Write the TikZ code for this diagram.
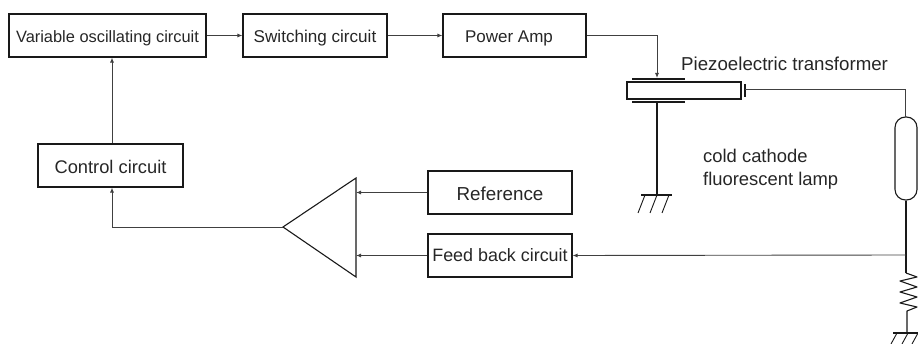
\documentclass[tikz,border=0pt]{standalone}
\usepackage{fontspec}
\setmainfont{Liberation Sans}
\usetikzlibrary{arrows.meta,calc}
\newcommand{\fs}[1]{\fontsize{#1}{23.5}\selectfont}
\tikzset{
  x=1pt,y=-1pt,
  blk/.style={draw=black!90,line width=1.1pt,minimum height=43pt,inner sep=0pt,text=black!85,text height=14pt,text depth=0pt},
  lbl/.style={text=black!85,align=left,inner sep=0pt,anchor=west},
  conn/.style={draw=black!75,line width=.9pt,-{Latex[length=5pt,width=4pt]}},
  wire/.style={draw=black!75,line width=.9pt},
  heavy/.style={draw=black!90,line width=1.1pt},
}
\begin{document}
\begin{tikzpicture}
\useasboundingbox (0,0) rectangle (918,344);
\node[blk,minimum width=197pt,font=\fs{16.4}] (vo) at (107.5,35.5) {Variable oscillating circuit};
\node[blk,minimum width=144pt,font=\fs{17.1}] (sw) at (315,35.5) {Switching circuit};
\node[blk,minimum width=143pt] (pa) at (514.5,35.5) {};
\node[text=black!85,inner sep=0pt,font=\fs{17},text height=14pt,text depth=0pt] (pal) at (509,35.5) {Power Amp};
\node[blk,minimum width=145pt,font=\fs{18.3},text height=16pt] (cc) at (110.5,165.5) {Control circuit};
\node[blk,minimum width=144pt,font=\fs{18.8},text height=16pt] (rf) at (500,192.5) {Reference};
\node[blk,minimum width=144pt,font=\fs{17.9},text height=12.5pt] (fb) at (500,255.5) {Feed back circuit};
% amplifier
\coordinate (apex) at (283,227);
\coordinate (atop) at (356,178);
\coordinate (abot) at (356,277);
\draw[heavy,line join=miter] (apex) -- (atop) -- (abot) -- cycle;
% top row connectors
\draw[conn] (vo.east) -- (sw.west);
\draw[conn] (sw.east) -- (pa.west);
\draw[conn] (cc.north -| 112,0) -- (vo.south -| 112,0);
\draw[conn] (apex) -- (112,227) -- (cc.south -| 112,0);
\draw[conn] (rf.west) -- (rf.west -| abot);
\draw[conn] (fb.west) -- (fb.west -| abot);
% piezo transformer
\node[draw=black!90,line width=1.1pt,minimum width=114pt,minimum height=17pt,inner sep=0pt] (pz) at (684,90.5) {};
\coordinate (et1) at (632,79); \coordinate (et2) at (685,79);
\coordinate (eb1) at (632,102); \coordinate (eb2) at (685,102);
\coordinate (er1) at (745,84); \coordinate (er2) at (745,97);
\draw[heavy] (et1) -- (et2);
\draw[heavy] (eb1) -- (eb2);
\draw[heavy] (er1) -- (er2);
\draw[conn] (pa.east) -- (657,35.5) -- (657,78);
% left ground
\coordinate (g1) at (657,195);
\draw[heavy] (657,102) -- (g1);
\draw[heavy] (641,195) -- (672,195);
\foreach \x in {645,657,669}{\draw[line width=.9pt,black!90] (\x,195) -- (\x-7,213);}
% lamp
\node[draw=black!90,line width=1.1pt,minimum width=22pt,minimum height=83pt,rounded corners=10.5pt,inner sep=0pt] (lamp) at (906,158.5) {};
\coordinate (tap) at (906,255);
\coordinate (r1) at (906,273);
\coordinate (r2) at (906,311);
\coordinate (g2) at (907,333);
\draw[wire] (er1 |- 0,89) -- (905,89) -- (905,117);
\draw[heavy] (lamp.south) -- (r1);
\draw[conn] (tap) -- (fb.east);
% resistor
\draw[heavy,line join=round] (r1) -- (917,277) -- (900,281) -- (917,287) -- (900,292) -- (917,297) -- (900,303) -- (917,307) -- (907,311) -- (g2);
\draw[heavy] (893,333) -- (918,333);
\foreach \x in {896,907,917}{\draw[line width=.9pt,black!90] (\x+1,333) -- (\x-5,344);}
% labels
\node[lbl,font=\fs{18.7}] (pt) at (681,64) {Piezoelectric transformer};
\node[lbl,font=\fs{18.4}] (cl) at (703,169) {cold cathode\\fluorescent lamp};
\end{tikzpicture}
\end{document}
